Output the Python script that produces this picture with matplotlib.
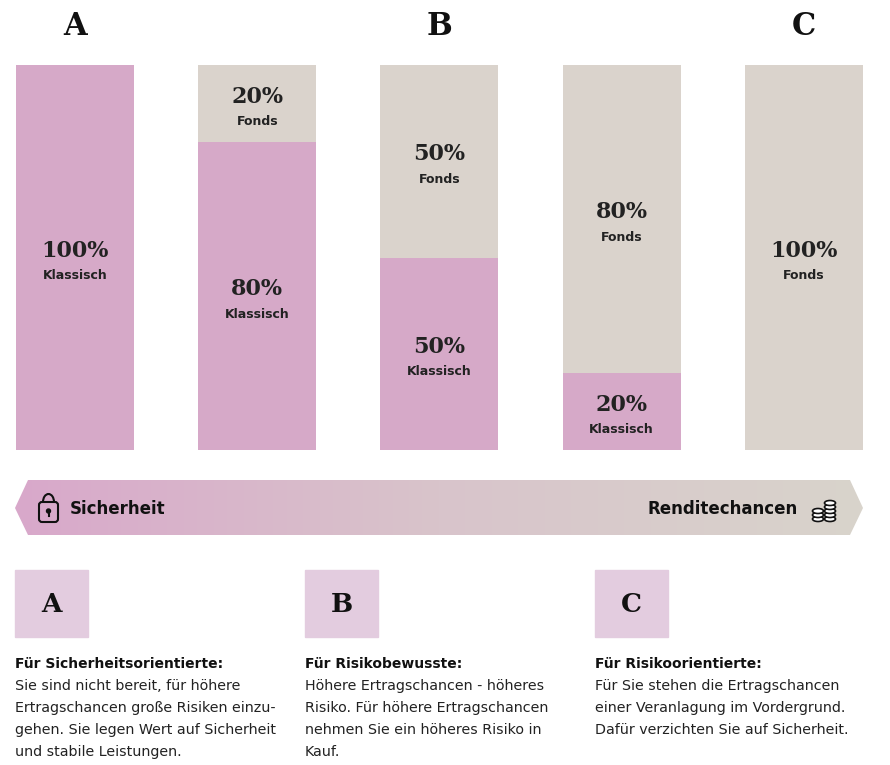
import matplotlib.pyplot as plt
import numpy as np
from matplotlib.patches import Polygon, Rectangle, FancyBboxPatch, Arc, Ellipse
from matplotlib.colors import LinearSegmentedColormap

groups = ['A', '', 'B', '', 'C']
klassisch = [100, 80, 50, 20, 0]
fonds = [0, 20, 50, 80, 100]
pink = '#D6A9C8'
beige = '#DAD3CC'
serif = 'DejaVu Serif'

fig = plt.figure(figsize=(8.9, 7.65), dpi=100)

# background overlay in pixel coordinates
bg = fig.add_axes([0, 0, 1, 1])
bg.set_xlim(0, 890)
bg.set_ylim(765, 0)
bg.axis('off')

# bars
ax = fig.add_axes([15 / 890, (765 - 450) / 765, 850 / 890, 385 / 765])
x = np.arange(len(klassisch))
w = 0.647
ax.bar(x, klassisch, w, color=pink)
ax.bar(x, fonds, w, bottom=klassisch, color=beige)
ax.set_xlim(-0.329, 4.335)
ax.set_ylim(0, 100)
ax.axis('off')


def label(i, yc, pct, name):
    ax.text(i, yc + 1.8, f'{pct}%', ha='center', va='center',
            fontsize=16, fontweight='bold', family=serif, color='#222')
    ax.text(i, yc - 4.7, name, ha='center', va='center',
            fontsize=9, fontweight='bold', color='#222')


for i in x:
    if klassisch[i]:
        label(i, klassisch[i] / 2, klassisch[i], 'Klassisch')
    if fonds[i]:
        label(i, klassisch[i] + fonds[i] / 2, fonds[i], 'Fonds')
    if groups[i]:
        ax.text(i, 106, groups[i], ha='center', va='bottom', fontsize=22,
                fontweight='bold', family=serif, color='#111', clip_on=False)

# gradient arrow band
band = Polygon([(15, 508), (28, 480), (850, 480), (863, 508), (850, 535), (28, 535)],
               closed=True, facecolor='none', edgecolor='none')
bg.add_patch(band)
grad = np.linspace(0, 1, 256).reshape(1, -1)
cmap = LinearSegmentedColormap.from_list('g', ['#D8A8CA', '#D8C4CB', '#D9D4CC'])
im = bg.imshow(grad, extent=(15, 863, 535, 480), aspect='auto', cmap=cmap)
im.set_clip_path(band)
bg.set_xlim(0, 890)
bg.set_ylim(765, 0)
bg.text(70, 509, 'Sicherheit', ha='left', va='center', fontsize=12, fontweight='bold', color='#111')
bg.text(798, 509, 'Renditechancen', ha='right', va='center', fontsize=12, fontweight='bold', color='#111')
# lock icon
bg.add_patch(FancyBboxPatch((39, 502), 19, 20, boxstyle='round,pad=0,rounding_size=3',
                            fill=False, lw=1.5, ec='#111'))
bg.add_patch(Arc((48.5, 502), 11, 16, theta1=180, theta2=360, lw=1.5, color='#111'))
bg.add_patch(Ellipse((48.5, 511), 4, 4, color='#111'))
bg.plot([48.5, 48.5], [511, 516], color='#111', lw=1.5)
# coins icon
for cx, n in [(818, 3), (830, 5)]:
    for k in range(n):
        bg.add_patch(Ellipse((cx, 519 - k * 4), 11, 5, fc='white', ec='#111', lw=1.2))

# description boxes
boxes = [15, 305, 595]
letters = ['A', 'B', 'C']
heads = ['Für Sicherheitsorientierte:', 'Für Risikobewusste:', 'Für Risikoorientierte:']
bodies = [
    'Sie sind nicht bereit, für höhere\nErtragschancen große Risiken einzu-\ngehen. Sie legen Wert auf Sicherheit\nund stabile Leistungen.',
    'Höhere Ertragschancen - höheres\nRisiko. Für höhere Ertragschancen\nnehmen Sie ein höheres Risiko in\nKauf.',
    'Für Sie stehen die Ertragschancen\neiner Veranlagung im Vordergrund.\nDafür verzichten Sie auf Sicherheit.',
]
for bx, l, h, b in zip(boxes, letters, heads, bodies):
    bg.add_patch(Rectangle((bx, 570), 73, 67, color='#E3CCDF'))
    bg.text(bx + 36.5, 605, l, ha='center', va='center', fontsize=19,
            fontweight='bold', family=serif, color='#111')
    bg.text(bx, 664, h, ha='left', va='center', fontsize=10, fontweight='bold', color='#111')
    bg.text(bx, 679, b, ha='left', va='top', fontsize=10.3, color='#222', linespacing=1.72)

fig.savefig('out.png', dpi=100)
